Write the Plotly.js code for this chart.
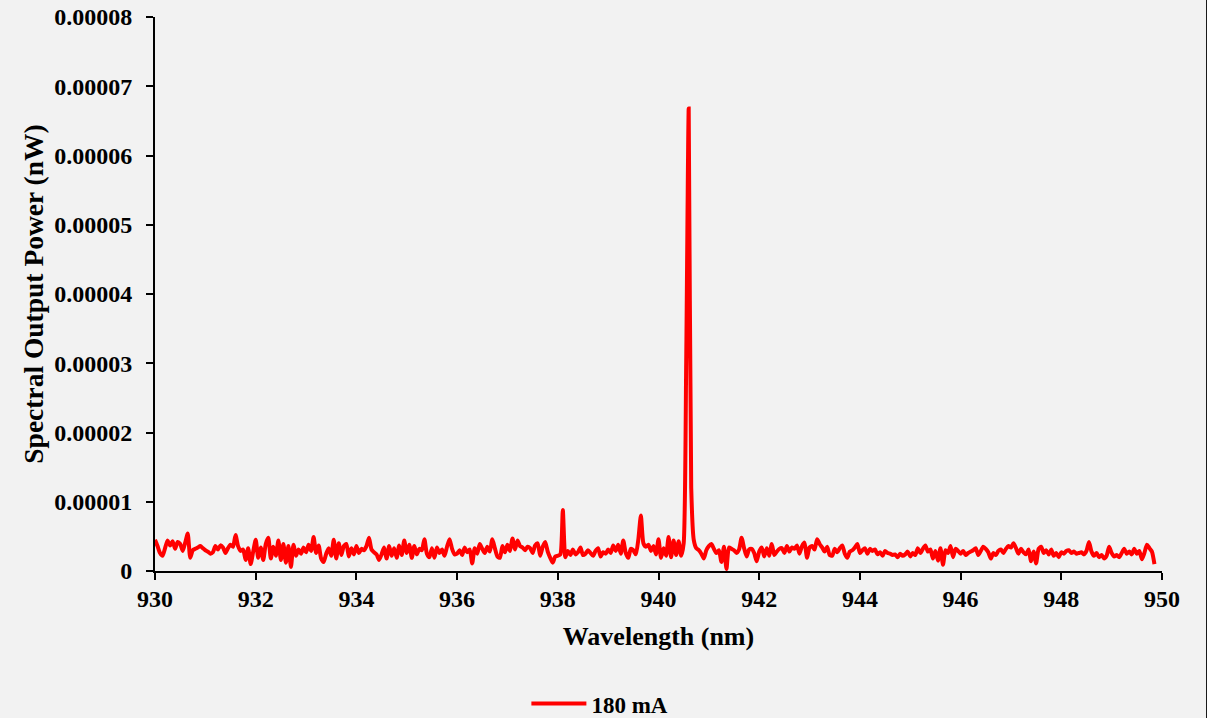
<!DOCTYPE html>
<html>
<head>
<meta charset="utf-8">
<script src="https://cdn.plot.ly/plotly-3.0.1.min.js"></script>
<style>
  html, body { margin: 0; padding: 0; background: #f2f2f2; }
  #chart { width: 1207px; height: 718px; }
  #edge { position: absolute; left: 1206px; top: 0; width: 1px; height: 718px; background: #1a1a1a; }
</style>
</head>
<body>
<div id="chart"></div>
<div id="edge"></div>
<script>
// Wavelength sampling grid (nm)
const wavelengthStart = 930.0;
const wavelengthStep = 0.05;

// Spectral output power, in units of 1e-6 nW, one row per nm (930 ... 949)
const power930 = [4.5,3.6,2.6,2.2,3.3,4.4,3.7,4.3,3.2,4.2,3.9,2.9,4.1,5.4,1.9,3.0,3.2,3.4,3.6,3.3];
const power931 = [3.0,2.8,2.5,2.7,3.6,3.1,3.7,3.4,2.6,3.3,3.8,3.5,5.2,3.6,2.9,3.1,1.6,3.3,1.0,2.8];
const power932 = [4.5,1.9,3.4,1.6,3.9,4.8,1.8,3.5,2.2,4.4,1.6,3.9,1.2,3.6,0.6,3.8,2.2,3.1,2.5,3.4];
const power933 = [2.7,3.8,2.9,4.9,2.6,3.7,1.8,1.3,2.5,3.3,2.2,4.5,1.8,4.0,2.3,3.6,3.9,2.1,3.3,2.4];
const power934 = [3.6,2.6,3.2,3.0,3.6,4.8,3.1,2.7,2.4,1.6,2.4,3.4,1.8,3.6,2.2,3.3,1.9,3.7,2.3,4.4];
const power935 = [2.6,3.8,1.9,3.6,2.4,3.2,3.0,4.6,2.5,2.0,3.3,1.9,3.4,2.6,3.1,2.2,3.5,4.6,3.2,2.4];
const power936 = [2.5,3.0,2.3,3.4,2.7,3.1,1.1,3.3,2.5,3.9,3.2,2.6,3.5,2.8,4.6,3.3,2.1,1.9,3.6,2.7];
const power937 = [3.8,2.9,4.7,3.1,4.4,3.6,3.4,3.0,3.5,3.3,2.6,3.7,4.0,2.2,3.5,4.2,2.8,1.9,1.2,2.1];
const power938 = [2.2,2.4,8.8,2.0,2.9,2.3,3.1,2.4,2.7,3.4,2.3,2.5,3.0,2.6,2.2,2.9,3.3,2.1,2.7,2.5];
const power939 = [3.1,2.6,3.7,2.9,3.8,2.5,4.4,2.6,1.9,3.2,3.0,2.4,4.6,8.0,4.0,3.5,3.8,2.9,3.6,2.4];
const power940 = [4.6,1.9,3.3,2.2,4.9,2.0,4.4,2.3,4.3,2.2,4.0,30.0,66.8,12.0,4.5,3.3,3.0,2.5,1.8,3.0];
const power941 = [3.6,3.9,3.2,2.6,3.0,1.3,3.5,0.3,3.4,3.2,3.0,2.6,3.1,4.8,3.3,2.1,3.1,3.2,2.6,1.4];
const power942 = [2.8,3.4,2.1,3.3,2.2,3.9,2.3,2.8,3.2,3.3,2.6,3.6,2.8,3.4,3.2,3.7,2.5,3.6,4.1,1.9];
const power943 = [3.4,3.6,3.1,4.6,3.9,3.4,2.8,3.5,2.3,2.2,3.2,2.7,3.3,3.7,2.5,1.9,2.8,3.0,3.4,3.9];
const power944 = [2.6,3.0,3.3,2.5,3.2,2.9,3.1,2.4,2.7,2.2,2.9,2.6,2.5,2.3,2.4,2.0,2.5,2.2,2.4,2.8];
const power945 = [2.1,2.6,2.3,3.3,2.6,3.2,3.7,2.8,3.1,1.8,2.9,1.5,3.3,0.9,3.0,2.6,3.6,2.0,3.2,2.9];
const power946 = [2.5,2.9,2.3,2.6,2.8,3.0,3.3,2.3,2.9,3.5,3.2,2.7,1.8,2.6,2.3,2.9,3.1,2.6,3.2,3.6];
const power947 = [3.4,4.0,3.3,2.5,3.2,2.7,2.4,3.1,1.4,2.8,1.1,3.2,3.5,2.6,3.0,2.4,3.1,2.2,2.6,2.0];
const power948 = [2.7,2.5,2.9,3.0,2.6,2.8,2.5,2.6,2.7,2.4,2.9,4.2,2.8,2.2,2.6,2.0,2.3,1.8,2.2,3.5];
const power949 = [2.6,2.1,2.3,2.0,2.6,3.2,2.5,2.8,2.4,3.2,2.5,2.9,1.7,2.6,3.8,3.3,2.8,1.0];
const powerUnit = 1e-6;

const seriesName = "180 mA";
const yTickValues = [0,0.00001,0.00002,0.00003,0.00004,0.00005,0.00006,0.00007,0.00008];
const yTickLabels = ["0","0.00001","0.00002","0.00003","0.00004","0.00005","0.00006","0.00007","0.00008"];
const xTickValues = [930,932,934,936,938,940,942,944,946,948,950];

const powerAll = [].concat(power930,power931,power932,power933,power934,power935,power936,
  power937,power938,power939,power940,power941,power942,power943,power944,power945,
  power946,power947,power948,power949);
const xs = powerAll.map((_, i) => +(wavelengthStart + i * wavelengthStep).toFixed(2));
const ys = powerAll.map(v => v * powerUnit);

const font = {family: "Liberation Serif", color: "#000", weight: "bold"};

const trace = {
  x: xs, y: ys, type: "scatter", mode: "lines", name: seriesName,
  line: {color: "#ff0000", width: 4, shape: "spline", smoothing: 0.6}
};

const layout = {
  width: 1207, height: 718,
  margin: {l: 155, r: 45, t: 17, b: 147},
  paper_bgcolor: "#f2f2f2", plot_bgcolor: "#f2f2f2",
  font: Object.assign({size: 24}, font),
  showlegend: true,
  legend: {
    orientation: "h", x: 0.497, xanchor: "center", xref: "container",
    y: 0.02, yanchor: "middle", yref: "container",
    font: Object.assign({size: 23}, font), itemwidth: 55, bgcolor: "rgba(0,0,0,0)"
  },
  xaxis: {
    range: [930, 950], tickvals: xTickValues, ticks: "outside", ticklen: 7, tickwidth: 2,
    tickcolor: "#000", showline: true, linecolor: "#000", linewidth: 2,
    showgrid: false, zeroline: false, ticklabelstandoff: -2,
    tickfont: Object.assign({size: 24}, font),
    title: {text: "Wavelength (nm)", font: Object.assign({size: 26}, font), standoff: 16},
    automargin: false, fixedrange: true
  },
  yaxis: {
    range: [0, 0.00008], tickvals: yTickValues, ticktext: yTickLabels, ticks: "outside",
    ticklen: 7, tickwidth: 2, tickcolor: "#000", showline: true, linecolor: "#000", linewidth: 2,
    showgrid: false, zeroline: false, ticklabelstandoff: 9,
    tickfont: Object.assign({size: 24}, font),
    title: {text: "Spectral Output Power (nW)", font: Object.assign({size: 27.5}, font), standoff: 3},
    automargin: false, fixedrange: true
  }
};

Plotly.newPlot("chart", [trace], layout, {displayModeBar: false, staticPlot: true});
</script>
</body>
</html>
